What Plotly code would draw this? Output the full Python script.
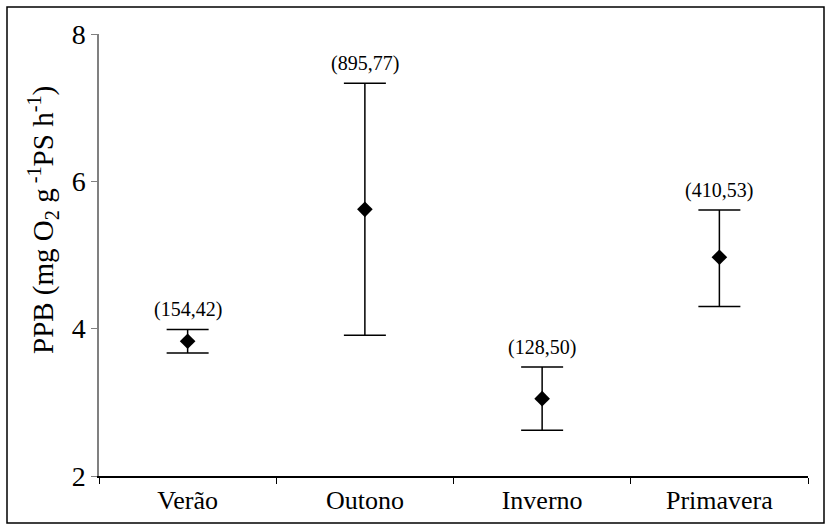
import plotly.graph_objects as go

seasons = ["Verão", "Outono", "Inverno", "Primavera"]
means = [3.83, 5.62, 3.05, 4.97]
upper = [3.99, 7.33, 3.48, 5.61]
lower = [3.67, 3.91, 2.62, 4.30]
labels = ["(154,42)", "(895,77)", "(128,50)", "(410,53)"]
y_title = "PPB (mg O<sub>2</sub> g<sup> -1</sup>PS h<sup>-1</sup>)"

err_plus = [u - m for u, m in zip(upper, means)]
err_minus = [m - l for m, l in zip(means, lower)]

font = "Liberation Serif"

fig = go.Figure()
fig.add_trace(go.Scatter(
    x=seasons, y=means, mode="markers",
    marker=dict(symbol="diamond", size=12, color="black"),
    error_y=dict(type="data", symmetric=False, array=err_plus, arrayminus=err_minus,
                 color="black", thickness=1.5, width=21),
    showlegend=False,
))

for s, u, t in zip(seasons, upper, labels):
    fig.add_annotation(x=s, y=u, text=t, showarrow=False, yanchor="bottom", yshift=6,
                       font=dict(family=font, size=20, color="black"))

W, H = 832, 532
ml, mr, mt, mb = 99, 24, 34, 56
pw, ph = W - ml - mr, H - mt - mb

fig.add_annotation(xref="paper", yref="paper", x=(43 - ml) / pw, y=(H - mb - 220) / ph,
                   text=y_title, textangle=-90, showarrow=False,
                   xanchor="center", yanchor="middle",
                   font=dict(family=font, size=29, color="black"))

fig.add_shape(type="rect", xref="paper", yref="paper",
              x0=(7 - ml) / pw, x1=(824 - ml) / pw,
              y0=(H - mb - 523) / ph, y1=(H - mb - 7) / ph,
              line=dict(color="black", width=1.5), fillcolor="rgba(0,0,0,0)")

fig.update_layout(
    width=W, height=H,
    margin=dict(l=ml, r=mr, t=mt, b=mb),
    paper_bgcolor="white", plot_bgcolor="white",
    font=dict(family=font, size=20, color="black"),
    xaxis=dict(type="category", range=[-0.5, 3.5], tickson="boundaries",
               ticks="outside", ticklen=6, tickcolor="black",
               showline=True, linecolor="black", linewidth=1.5,
               showgrid=False, zeroline=False,
               tickfont=dict(family=font, size=26, color="black")),
    yaxis=dict(range=[2, 8], tickvals=[2, 4, 6, 8], ticks="outside", ticklen=6,
               tickcolor="#808080", showline=True, linecolor="#808080", linewidth=1.5,
               showgrid=False, zeroline=False,
               tickfont=dict(family=font, size=28, color="black")),
)

fig.write_html("out.html")
